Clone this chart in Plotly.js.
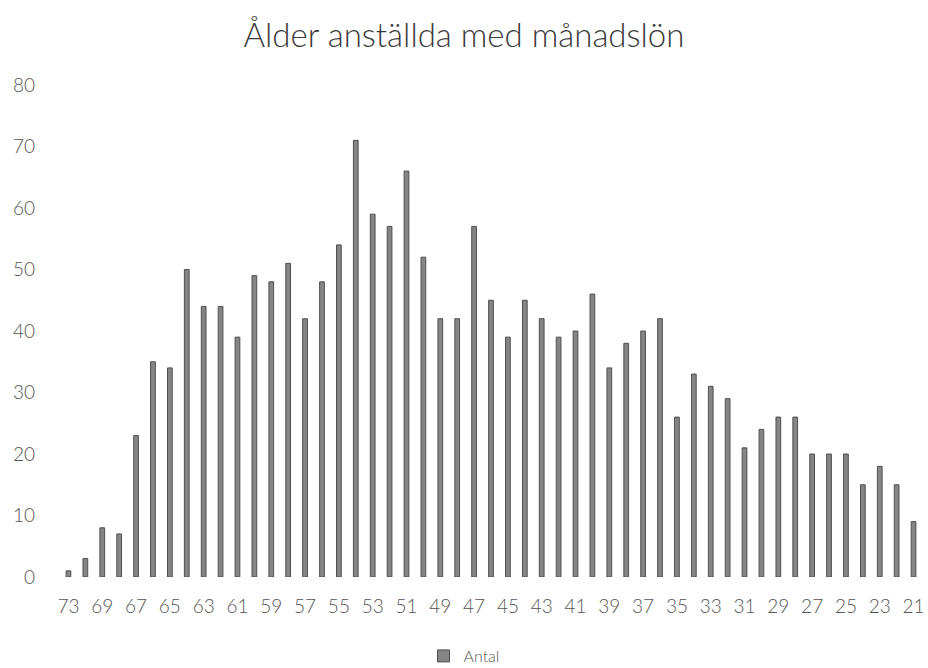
<!DOCTYPE html>
<html>
<head>
<meta charset="utf-8">
<script src="https://cdn.plot.ly/plotly-3.0.1.min.js"></script>
<style>html,body{margin:0;padding:0;background:#fff;}#chart{width:928px;height:668px;}</style>
</head>
<body>
<div id="chart"></div>
<script>
const ages = ['73','70','69','68','67','66','65','64','63','62','61','60','59','58','57','56','55','54','53','52','51','50','49','48','47','46','45','44','43','42','41','40','39','38','37','36','35','34','33','32','31','30','29','28','27','26','25','24','23','22','21'];
const antal = [1,3,8,7,23,35,34,50,44,44,39,49,48,51,42,48,54,71,59,57,66,52,42,42,57,45,39,45,42,39,40,46,34,38,40,42,26,33,31,29,21,24,26,26,20,20,20,15,18,15,9];
const tickAges = ages.filter((a, i) => i % 2 === 0);
const yTicks = [0,10,20,30,40,50,60,70,80];
const seriesName = 'Antal';
const chartTitle = 'Ålder anställda med månadslön';

const font = "Lato, 'Open Sans', sans-serif";
Plotly.newPlot('chart', [{
  type: 'bar',
  x: ages,
  y: antal,
  name: seriesName,
  marker: {color: '#858585', line: {color: '#505050', width: 1}},
  showlegend: true
}], {
  width: 928, height: 668,
  margin: {l: 60, r: 6, t: 85, b: 91},
  paper_bgcolor: '#fff', plot_bgcolor: '#fff',
  bargap: 0.72,
  title: {text: chartTitle, font: {family: font, size: 33, color: '#3a3a3a', weight: 300}, x: 0.5, xanchor: 'center', y: 1 - 35/668, yanchor: 'middle'},
  xaxis: {type: 'category', tickmode: 'array', tickvals: tickAges, ticktext: tickAges, automargin: false,
          showgrid: false, zeroline: false, showline: false, ticks: '',
          tickfont: {family: font, size: 19, color: '#555', weight: 300}, ticklabelstandoff: 16},
  yaxis: {range: [0, 80], tickmode: 'array', tickvals: yTicks, automargin: false, showgrid: false, zeroline: false, showline: false, ticks: '',
          tickfont: {family: font, size: 19, color: '#555', weight: 300}, ticklabelstandoff: 24},
  legend: {orientation: 'h', x: 0.5, xanchor: 'center', xref: 'container', y: 1 - 656/668, yanchor: 'middle', yref: 'container',
           font: {family: font, size: 16, color: '#555', weight: 300}}
}, {displayModeBar: false, staticPlot: true});
</script>
</body>
</html>
